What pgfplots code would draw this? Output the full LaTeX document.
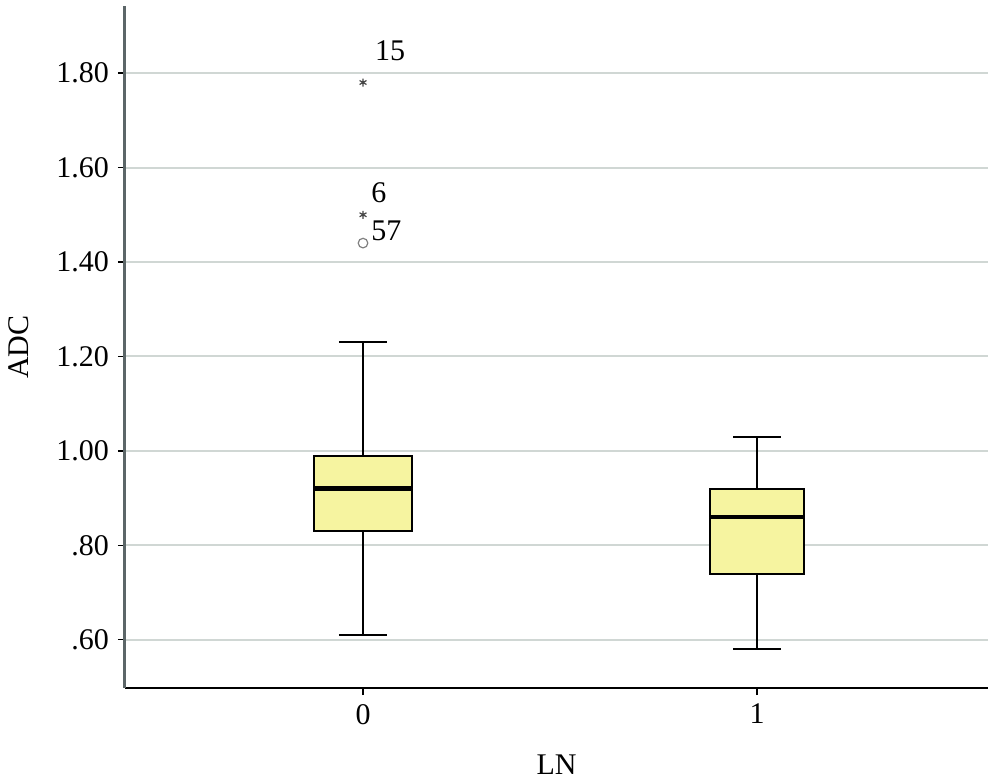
\documentclass[border=0pt]{standalone}
\usepackage{fontspec}
\setmainfont{Liberation Serif}
\usepackage{pgfplots}
\pgfplotsset{compat=1.18}
\usepgfplotslibrary{statistics}

\definecolor{boxfill}{RGB}{246,244,160}
\definecolor{gridgray}{RGB}{208,215,212}
\definecolor{yaxisgray}{RGB}{92,102,104}
\definecolor{markgray}{RGB}{70,70,70}

\begin{document}
\begin{tikzpicture}
  % page = 1000 x 782 px at 0.5pt per px
  \useasboundingbox (-62.5pt,-47pt) rectangle (437.5pt,344pt);
  \begin{axis}[
      at={(0,0)}, anchor=south west,
      scale only axis,
      width=431.5pt, height=341pt,
      xmin=-0.604, xmax=1.586,
      ymin=0.498, ymax=1.942,
      axis x line*=bottom,
      axis y line*=left,
      x axis line style={black, line width=1.2pt},
      y axis line style={yaxisgray, line width=1.5pt},
      xtick={0,1}, xticklabels={0,1},
      ytick={0.6,0.8,1.0,1.2,1.4,1.6,1.8},
      yticklabels={.60,.80,1.00,1.20,1.40,1.60,1.80},
      tick align=outside,
      major tick length=3.5pt,
      tick style={black, line width=0.6pt},
      ymajorgrids,
      grid style={gridgray, line width=1pt},
      ticklabel style={font=\fontsize{15}{17}\selectfont},
      label style={font=\fontsize{15}{17}\selectfont},
      yticklabel style={xshift=-1pt},
      xticklabel style={yshift=-1pt},
      xlabel={LN}, ylabel={ADC},
      xlabel style={at={(axis description cs:0.5,0)}, anchor=center, yshift=-38.5pt},
      ylabel style={at={(axis description cs:0,0.5)}, anchor=center, yshift=53pt},
      boxplot/draw direction=y,
      clip=false,
    ]
    % LN = 0
    \addplot[black, line width=0.9pt, fill=boxfill,
      boxplot prepared={
        draw position=0,
        lower whisker=0.61, lower quartile=0.83, median=0.92,
        upper quartile=0.99, upper whisker=1.23,
        box extend=0.249, whisker extend=0.122,
        every median/.style={line width=2.2pt}
      }] coordinates {};
    % LN = 1
    \addplot[black, line width=0.9pt, fill=boxfill,
      boxplot prepared={
        draw position=1,
        lower whisker=0.58, lower quartile=0.74, median=0.86,
        upper quartile=0.92, upper whisker=1.03,
        box extend=0.239, whisker extend=0.122,
        every median/.style={line width=2.2pt}
      }] coordinates {};
    % extreme values
    \addplot[only marks, mark=asterisk, mark size=2pt, markgray, line width=0.6pt]
      coordinates {(0,1.78) (0,1.50)};
    % outlier
    \addplot[only marks, mark=o, mark size=2.4pt, gray, line width=0.6pt]
      coordinates {(0,1.44)};
    \node[anchor=south west, font=\fontsize{15}{17}\selectfont, inner sep=0pt] at (axis cs:0.03,1.825) {15};
    \node[anchor=south west, font=\fontsize{15}{17}\selectfont, inner sep=0pt] at (axis cs:0.02,1.525) {6};
    \node[anchor=south west, font=\fontsize{15}{17}\selectfont, inner sep=0pt] at (axis cs:0.02,1.445) {57};
  \end{axis}
\end{tikzpicture}
\end{document}
